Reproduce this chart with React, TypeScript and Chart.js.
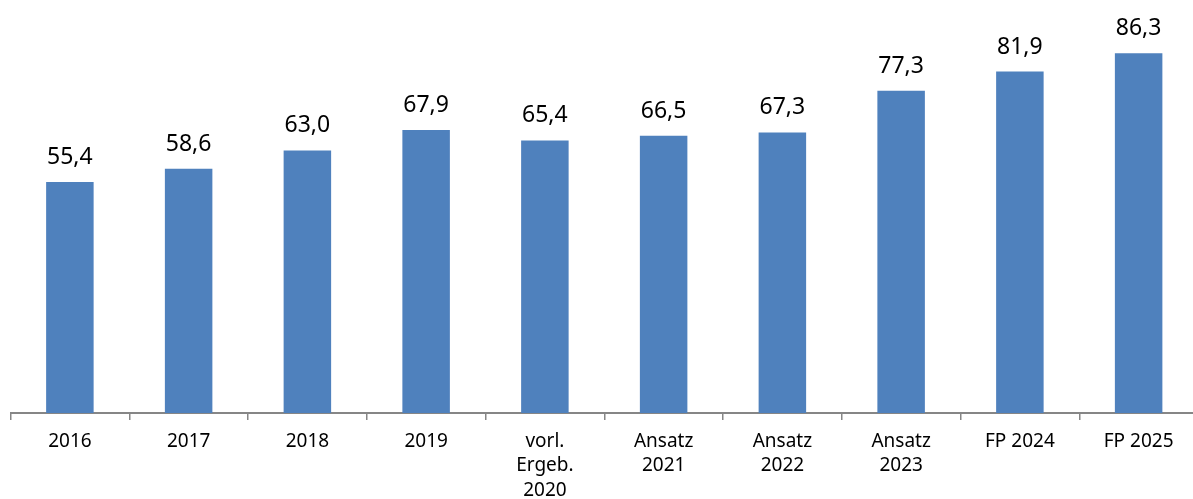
import React, { useEffect, useRef } from "react";
import { Chart, registerables } from "chart.js";

Chart.register(...registerables);

const categories: (string | string[])[] = [
  "2016",
  "2017",
  "2018",
  "2019",
  ["vorl.", "Ergeb.", "2020"],
  ["Ansatz", "2021"],
  ["Ansatz", "2022"],
  ["Ansatz", "2023"],
  "FP 2024",
  "FP 2025",
];
const values: number[] = [55.4, 58.6, 63.0, 67.9, 65.4, 66.5, 67.3, 77.3, 81.9, 86.3];

const FONT = "'Noto Sans', 'Open Sans', sans-serif";

const valueLabels = {
  id: "valueLabels",
  afterDatasetsDraw(chart: any) {
    const ctx = chart.ctx;
    const meta = chart.getDatasetMeta(0);
    ctx.save();
    ctx.fillStyle = "#000000";
    ctx.font = `23px ${FONT}`;
    ctx.textAlign = "center";
    ctx.textBaseline = "alphabetic";
    meta.data.forEach((bar: any, i: number) => {
      const v = values[i];
      ctx.fillText(v.toFixed(1).replace(".", ","), bar.x, bar.y - 18);
    });
    ctx.restore();
  },
};

export default function App() {
  const ref = useRef<HTMLCanvasElement | null>(null);
  useEffect(() => {
    if (!ref.current) return;
    const chart = new Chart(ref.current, {
      type: "bar",
      data: {
        labels: categories as any,
        datasets: [
          {
            data: values,
            backgroundColor: "#4F81BD",
            borderWidth: 0,
            categoryPercentage: 1,
            barPercentage: 0.4,
          },
        ],
      },
      options: {
        responsive: false,
        animation: false,
        devicePixelRatio: 1,
        layout: { padding: { top: 17, left: 10.5, right: 0, bottom: 0 } },
        plugins: {
          legend: { display: false },
          tooltip: { enabled: false },
        },
        scales: {
          y: {
            display: false,
            min: 0,
            max: 95,
          },
          x: {
            offset: true,
            grid: {
              offset: true,
              drawOnChartArea: false,
              drawTicks: true,
              tickLength: 7,
              color: "#868686",
              lineWidth: 1.5,
            },
            border: { display: true, color: "#868686", width: 2 },
            ticks: {
              color: "#000000",
              font: { family: FONT, size: 19, lineHeight: 1.3 },
              padding: 9,
              maxRotation: 0,
              autoSkip: false,
            },
            afterFit: (scale: any) => {
              scale.height = 86;
            },
          },
        },
      },
      plugins: [valueLabels],
    });
    return () => chart.destroy();
  }, []);
  return (
    <div
      style={{
        position: "absolute",
        left: 0,
        top: 0,
        width: 1193,
        height: 499,
        overflow: "hidden",
      }}
    >
      <canvas ref={ref} width={1198} height={499} style={{ display: "block" }} />
    </div>
  );
}
